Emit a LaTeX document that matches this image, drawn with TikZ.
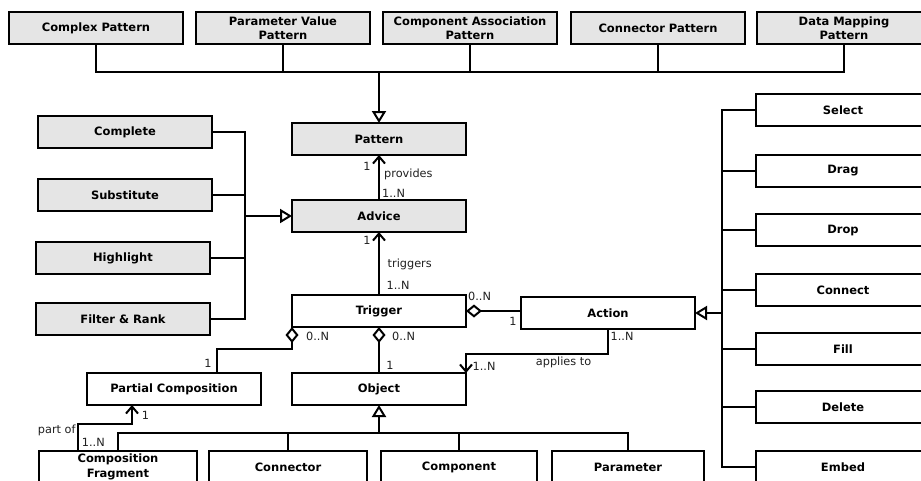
\documentclass[tikz,border=0pt]{standalone}
\usepackage{fontspec}
\setmainfont{DejaVu Sans}
\usetikzlibrary{arrows.meta}
\definecolor{boxgray}{HTML}{E5E5E5}
\definecolor{lblgray}{HTML}{202020}
\begin{document}
\begin{tikzpicture}[x=1pt,y=-1pt,
  box/.style={draw=black, line width=2pt, minimum width=174pt, minimum height=32pt, inner sep=1pt, outer sep=0pt, align=center, font=\fontsize{11.5}{14.5}\selectfont\bfseries},
  gbox/.style={box, fill=boxgray},
  wbox/.style={box, fill=white},
  conn/.style={line width=2pt},
  lbl/.style={font=\fontsize{11.3}{13}\selectfont, inner sep=0pt, text=lblgray},
  gen/.style={conn, -{Triangle[open, length=12pt, width=14pt]}},
  nav/.style={conn, -{Straight Barb[length=7pt, width=12pt]}},
  agg/.style={conn, {Diamond[fill=white, length=16pt, width=13pt]}-},
]
\useasboundingbox (0,0) rectangle (921,480);
\clip (0,0) rectangle (921,480);
\fill[white] (0,0) rectangle (921,480);

% top row
\node[gbox] (complex) at (96,28) {Complex Pattern};
\node[gbox] (param) at (283,28) {Parameter Value\\Pattern};
\node[gbox] (compassoc) at (470,28) {Component Association\\Pattern};
\node[gbox] (connpat) at (658,28) {Connector Pattern};
\node[gbox] (datamap) at (844,28) {Data Mapping\\Pattern};

% central column
\node[gbox] (pattern) at (379,139) {Pattern};
\node[gbox] (advice) at (379,216) {Advice};
\node[wbox] (trigger) at (379,311) {Trigger};
\node[wbox] (object) at (379,389) {Object};
\node[wbox] (action) at (608,313) {Action};
\node[wbox] (pc) at (174,389) {Partial Composition};

% left column
\node[gbox] (complete) at (125,132) {Complete};
\node[gbox] (substitute) at (125,195) {Substitute};
\node[gbox] (highlight) at (123,258) {Highlight};
\node[gbox] (filter) at (123,319) {Filter \& Rank};

% right column
\node[wbox] (select) at (843,110) {Select};
\node[wbox] (drag) at (843,171) {Drag};
\node[wbox] (drop) at (843,230) {Drop};
\node[wbox] (connect) at (843,290) {Connect};
\node[wbox] (fill) at (843,349) {Fill};
\node[wbox] (delete) at (843,407) {Delete};
\node[wbox] (embed) at (843,467) {Embed};

% bottom row
\node[wbox, minimum width=158pt] (compfrag) at (118,467) {Composition\\Fragment};
\node[wbox, minimum width=158pt] (connector) at (288,467) {Connector};
\node[wbox, minimum width=156pt] (component) at (459,467) {Component};
\node[wbox, minimum width=152pt] (parameter) at (628,467) {Parameter};

% bus coordinates
\coordinate (busY) at (0,72);
\coordinate (lbus) at (245,0);
\coordinate (rbus) at (722,0);
\coordinate (obus) at (0,433);
\coordinate (pcj) at (217,349);
\coordinate (apj) at (0,354);
\coordinate (poj) at (78,424);
\coordinate (pox) at (132,0);

% top generalization
\draw[conn] (complex.south) -- (complex.south |- busY) -- (datamap.south |- busY) -- (datamap.south);
\draw[conn] (param.south) -- (param.south |- busY);
\draw[conn] (compassoc.south) -- (compassoc.south |- busY);
\draw[conn] (connpat.south) -- (connpat.south |- busY);
\draw[gen] (pattern.north |- busY) -- (pattern.north);

% left generalization
\draw[conn] (complete.east) -- (complete.east -| lbus) -- (filter.east -| lbus) -- (filter.east);
\draw[conn] (substitute.east) -- (substitute.east -| lbus);
\draw[conn] (highlight.east) -- (highlight.east -| lbus);
\draw[gen] (advice.west -| lbus) -- (advice.west);

% right generalization
\draw[conn] (select.west) -- (select.west -| rbus) -- (embed.west -| rbus) -- (embed.west);
\draw[conn] (drag.west) -- (drag.west -| rbus);
\draw[conn] (drop.west) -- (drop.west -| rbus);
\draw[conn] (connect.west) -- (connect.west -| rbus);
\draw[conn] (fill.west) -- (fill.west -| rbus);
\draw[conn] (delete.west) -- (delete.west -| rbus);
\draw[gen] (action.east -| rbus) -- (action.east);

% bottom generalization
\draw[conn] (compfrag.north) -- (compfrag.north |- obus) -- (parameter.north |- obus) -- (parameter.north);
\draw[conn] (connector.north) -- (connector.north |- obus);
\draw[conn] (component.north) -- (component.north |- obus);
\draw[gen] (object.south |- obus) -- (object.south);

% associations
\draw[nav] (advice.north) -- (pattern.south);
\draw[nav] (trigger.north) -- (advice.south);
\draw[agg] (trigger.east) -- (trigger.east -| action.west);
\draw[agg] (trigger.south) -- (object.north);
\draw[agg] (trigger.south west) |- (pcj) -- (pcj |- pc.north);
\draw[nav] (action.south) -- (action.south |- apj) -| (object.north east);
\draw[nav] (poj |- compfrag.north) -- (poj) -| (pox |- pc.south);

% labels
\node[lbl] (l1) at (367,166) {1};
\node[lbl, anchor=west] (l2) at (384,174) {provides};
\node[lbl, anchor=west] (l3) at (382,193) {1..N};
\node[lbl] (l4) at (367,240) {1};
\node[lbl, anchor=west] (l5) at (387.5,264) {triggers};
\node[lbl, anchor=west] (l6) at (386.5,285) {1..N};
\node[lbl, anchor=west] (l7) at (468,296) {0..N};
\node[lbl] (l8) at (513,321) {1};
\node[lbl, anchor=west] (l9) at (306,336) {0..N};
\node[lbl, anchor=west] (l10) at (392,336) {0..N};
\node[lbl] (l11) at (390,365) {1};
\node[lbl] (l12) at (208,363) {1};
\node[lbl, anchor=west] (l13) at (610.5,336) {1..N};
\node[lbl, anchor=west] (l14) at (472.5,366) {1..N};
\node[lbl, anchor=west] (l15) at (535.7,362) {applies to};
\node[lbl, anchor=west] (l16) at (141.7,415) {1};
\node[lbl, anchor=west] (l17) at (37.7,430) {part of};
\node[lbl, anchor=west] (l18) at (81.7,442) {1..N};
\end{tikzpicture}
\end{document}
